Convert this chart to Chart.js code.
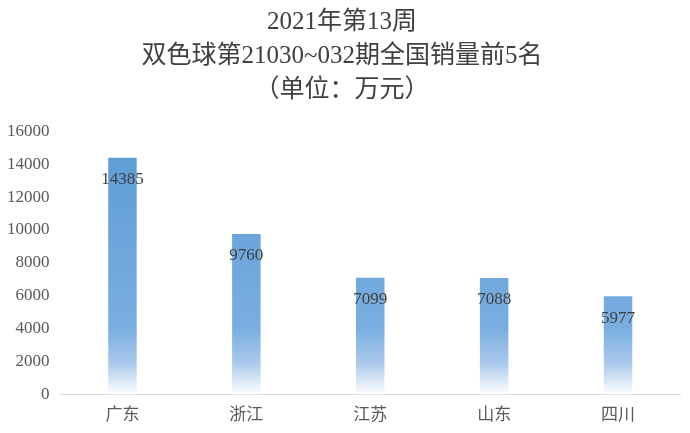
<!DOCTYPE html>
<html><head><meta charset="utf-8">
<script src="https://cdn.jsdelivr.net/npm/chart.js@4"></script>
<style>body{margin:0;background:#fff}#w{width:690px;height:433px}</style>
</head><body><div id="w"><canvas id="c"></canvas></div>
<script>
const categories = ['广东','浙江','江苏','山东','四川'];
const values = [14385, 9760, 7099, 7088, 5977];
const titleLines = ['2021年第13周','双色球第21030~032期全国销量前5名','（单位：万元）'];
const F = '"Liberation Serif", "Noto Sans CJK SC", serif';
const labelPlugin = {
  id:'lbl',
  afterDatasetsDraw(chart){
    const ctx = chart.ctx, meta = chart.getDatasetMeta(0);
    ctx.save(); ctx.font = '17px ' + F; ctx.fillStyle = '#404040';
    ctx.textAlign = 'center'; ctx.textBaseline = 'middle';
    meta.data.forEach((b,i)=>{ ctx.fillText(String(values[i]), b.x, b.y + 22); });
    ctx.restore();
  }
};
new Chart(document.getElementById('c'), {
  type:'bar',
  data:{labels:categories, datasets:[{data:values, barPercentage:0.23, categoryPercentage:1,
    backgroundColor(ctx){
      const a = ctx.chart.chartArea; if(!a) return '#5b9bd5';
      const g = ctx.chart.ctx.createLinearGradient(0,a.top,0,a.bottom);
      g.addColorStop(0,'#5b9bd5'); g.addColorStop(0.75,'#7aaee0'); g.addColorStop(0.88,'#a9c9eb'); g.addColorStop(1,'#ffffff');
      return g;
    }}]},
  options:{responsive:true, maintainAspectRatio:false, animation:false,
    layout:{padding:{left:4,right:10,top:0,bottom:4}},
    plugins:{legend:{display:false}, tooltip:{enabled:false},
      title:{display:true, text:titleLines, color:'#404040', font:{family:F,size:25,weight:'normal',lineHeight:1.35}, padding:{top:6,bottom:24}}},
    scales:{
      x:{grid:{display:false}, border:{color:'#d9d9d9'}, ticks:{color:'#595959', font:{family:F,size:17}}},
      y:{min:0,max:16000, ticks:{stepSize:2000,color:'#595959',font:{family:F,size:17},callback:v=>String(v)}, grid:{display:false}, border:{display:false}}
    }
  },
  plugins:[labelPlugin]
});
</script></body></html>
